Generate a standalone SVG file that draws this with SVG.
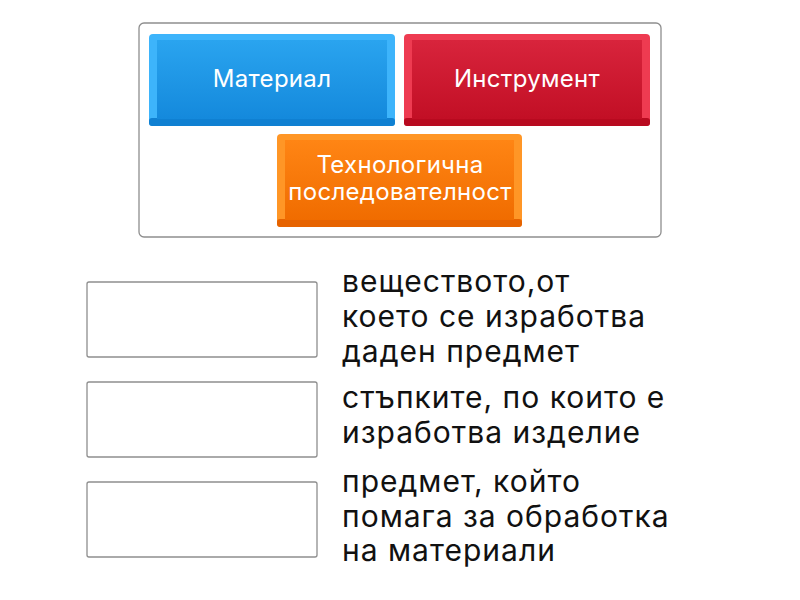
<svg xmlns="http://www.w3.org/2000/svg" width="800" height="600" viewBox="0 0 800 600">
<defs>
<linearGradient id="gb" x1="0" y1="0" x2="0" y2="1"><stop offset="0" stop-color="#2aa4ef"/><stop offset="1" stop-color="#1489dc"/></linearGradient>
<linearGradient id="gr" x1="0" y1="0" x2="0" y2="1"><stop offset="0" stop-color="#d8243c"/><stop offset="1" stop-color="#c20f25"/></linearGradient>
<linearGradient id="go" x1="0" y1="0" x2="0" y2="1"><stop offset="0" stop-color="#ff8514"/><stop offset="1" stop-color="#f06c00"/></linearGradient>
<style>
.frame{fill:#fff;stroke:#8e8e8e;stroke-width:1.3}
.slot{fill:#fff;stroke:#8e8e8e;stroke-width:1.3}
.lbl{font-family:Inter,Roboto,"Liberation Sans",sans-serif;font-size:24px;fill:#fff;text-anchor:middle;letter-spacing:0.3px}
.def{font-family:Inter,Roboto,"Liberation Sans",sans-serif;font-size:30px;fill:#111;letter-spacing:1px}
</style>
</defs>
<rect class="frame" x="139" y="23" width="522" height="214" rx="5"/>
<g id="material">
<rect x="149" y="34" width="246" height="92" rx="4" fill="#3db4fb"/>
<rect x="149" y="118" width="246" height="8" rx="3" fill="#0f80d2"/>
<rect x="157" y="40" width="230" height="79" fill="url(#gb)"/>
<text class="lbl" x="272" y="87">Материал</text>
</g>
<g id="instrument">
<rect x="404" y="34" width="246" height="92" rx="4" fill="#ee3b51"/>
<rect x="404" y="118" width="246" height="8" rx="3" fill="#b80a1f"/>
<rect x="412" y="40" width="230" height="79" fill="url(#gr)"/>
<text class="lbl" x="527" y="87">Инструмент</text>
</g>
<g id="tehnologichna">
<rect x="277" y="134" width="245" height="93" rx="4" fill="#ff9626"/>
<rect x="277" y="219" width="245" height="8" rx="3" fill="#e66300"/>
<rect x="285" y="140" width="229" height="80" fill="url(#go)"/>
<text class="lbl" x="400" y="173">Технологична</text>
<text class="lbl" x="400" y="200">последователност</text>
</g>
<g id="slot1"><rect class="slot" x="87" y="282" width="230" height="75" rx="2"/></g>
<g id="slot2"><rect class="slot" x="87" y="382" width="230" height="75" rx="2"/></g>
<g id="slot3"><rect class="slot" x="87" y="482" width="230" height="75" rx="2"/></g>
<g id="def1"><text class="def" x="342" y="292">веществото,от</text><text class="def" x="342" y="327">което се изработва</text><text class="def" x="342" y="362">даден предмет</text></g>
<g id="def2"><text class="def" x="342" y="408">стъпките, по които е</text><text class="def" x="342" y="443">изработва изделие</text></g>
<g id="def3"><text class="def" x="342" y="492">предмет, който</text><text class="def" x="342" y="527">помага за обработка</text><text class="def" x="342" y="561">на материали</text></g>
<g id="connectors"/>
</svg>
